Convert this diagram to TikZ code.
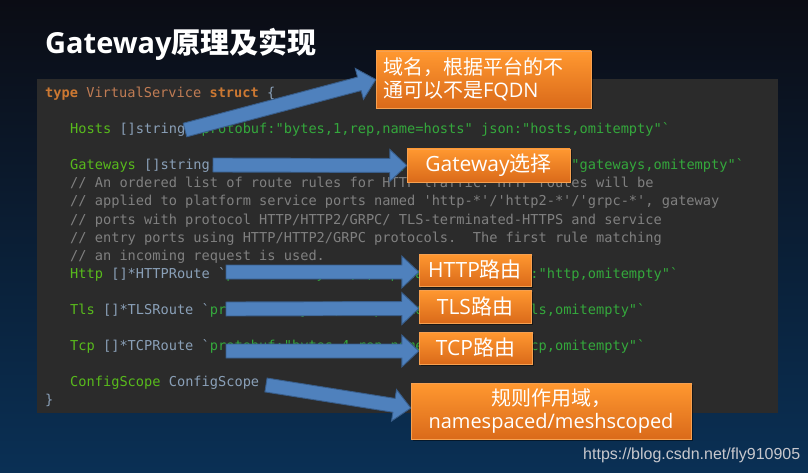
\documentclass[tikz,border=0pt]{standalone}
\usepackage{fontspec}
\usetikzlibrary{calc,shadows}
\newfontfamily\codefont{DejaVu Sans Mono}
\newfontfamily\cjk{Noto Sans CJK SC}
\newfontfamily\lat{Open Sans}
\newfontfamily\urlfont{Liberation Sans}
\definecolor{kw}{RGB}{204,120,50}
\definecolor{tname}{RGB}{192,124,84}
\definecolor{fld}{RGB}{88,186,28}
\definecolor{typ}{RGB}{138,160,184}
\definecolor{tagc}{RGB}{52,168,60}
\definecolor{cmt}{RGB}{128,128,128}
\definecolor{codebg}{RGB}{43,43,43}
\definecolor{arrfill}{RGB}{79,129,189}
\definecolor{arrline}{RGB}{56,93,138}
\definecolor{otop}{RGB}{255,152,48}
\definecolor{obot}{RGB}{218,106,26}
\definecolor{oline}{RGB}{246,160,80}
\definecolor{bgtop}{RGB}{11,12,20}
\definecolor{bgmid}{RGB}{12,22,40}
\definecolor{bgbot}{RGB}{10,48,85}
\definecolor{urlc}{RGB}{200,200,205}
\newcommand\ckw[1]{\textcolor{kw}{\bfseries#1}}
\newcommand\cfld[1]{\textcolor{fld}{#1}}
\newcommand\ctyp[1]{\textcolor{typ}{#1}}
\newcommand\ctag[1]{\textcolor{tagc}{#1}}
\newcommand\ccmt[1]{\textcolor{cmt}{#1}}
\newcommand\bq{\symbol{96}}
\tikzset{
  codeline/.style={anchor=base west, inner sep=0pt, font=\fontsize{13.65}{16}\selectfont\codefont\frenchspacing},
  blockarrow/.style={fill=arrfill, draw=arrline, line width=0.9pt, line join=miter},
  obox/.style={draw=oline, line width=0.8pt, top color=otop, bottom color=obot, text=white, inner sep=0pt,
    drop shadow={shadow xshift=1.5pt, shadow yshift=-1.5pt, opacity=0.45, fill=black}},
}
\newcommand\blkarrow[2]{%
  \path ($(#2)!17pt!(#1)$) coordinate (hh);
  \draw[blockarrow] ($(#1)!7pt!90:(#2)$) -- ($(hh)!7pt!90:(#2)$) -- ($(hh)!16pt!90:(#2)$) -- (#2)
    -- ($(hh)!16pt!-90:(#2)$) -- ($(hh)!7pt!-90:(#2)$) -- ($(#1)!7pt!-90:(#2)$) -- cycle;}
\begin{document}
\begin{tikzpicture}[x=1pt,y=-1pt]
\useasboundingbox (0,0) rectangle (808,473);
% background
\shade[top color=bgtop, middle color=bgmid, bottom color=bgbot] (0,0) rectangle (808,473);
% code box
\fill[codebg] (37,79) rectangle (778,413);
% code lines
\node[codeline] (l0) at (45,98) {\ckw{type} \textcolor{tname}{VirtualService} \ckw{struct} \ctyp{\{}};
\node[codeline] (l2) at (70,134) {\cfld{Hosts} \ctyp{[]string} \ctyp{\bq}\ctag{protobuf:"bytes,1,rep,name=hosts" json:"hosts,omitempty"\bq}};
\node[codeline] (l4) at (70,170) {\cfld{Gateways} \ctyp{[]string} \ctyp{\bq}\ctag{protobuf:"bytes,2,rep,name=gateways" json:"gateways,omitempty"\bq}};
\node[codeline] (l5) at (70,188) {\ccmt{// An ordered list of route rules for HTTP traffic. HTTP routes will be}};
\node[codeline] (l6) at (70,206) {\ccmt{// applied to platform service ports named 'http-*'/'http2-*'/'grpc-*', gateway}};
\node[codeline] (l7) at (70,224) {\ccmt{// ports with protocol HTTP/HTTP2/GRPC/ TLS-terminated-HTTPS and service}};
\node[codeline] (l8) at (70,242) {\ccmt{// entry ports using HTTP/HTTP2/GRPC protocols.\ \ The first rule matching}};
\node[codeline] (l9) at (70,260) {\ccmt{// an incoming request is used.}};
\node[codeline] (l10) at (70,278) {\cfld{Http} \ctyp{[]*HTTPRoute} \ctyp{\bq}\ctag{protobuf:"bytes,3,rep,name=http" json:"http,omitempty"\bq}};
\node[codeline] (l12) at (70,314) {\cfld{Tls} \ctyp{[]*TLSRoute} \ctyp{\bq}\ctag{protobuf:"bytes,5,rep,name=tls" json:"tls,omitempty"\bq}};
\node[codeline] (l14) at (70,350) {\cfld{Tcp} \ctyp{[]*TCPRoute} \ctyp{\bq}\ctag{protobuf:"bytes,4,rep,name=tcp" json:"tcp,omitempty"\bq}};
\node[codeline] (l16) at (70,386) {\cfld{ConfigScope} \ctyp{ConfigScope}};
\node[codeline] (l17) at (45,404) {\ctyp{\}}};
% callout boxes (positions)
\path node[minimum width=215pt, minimum height=57pt] (b1) at (483.5,79.5) {}
      node[minimum width=163pt, minimum height=33pt] (b2) at (488.5,165.5) {}
      node[minimum width=112pt, minimum height=32pt] (b3) at (475,270) {}
      node[minimum width=112pt, minimum height=33pt] (b4) at (475,306.5) {}
      node[minimum width=113pt, minimum height=32pt] (b5) at (475.5,348) {}
      node[minimum width=280pt, minimum height=56pt] (b6) at (551,411) {};
% arrow tails
\coordinate (t1) at (185,130);
\coordinate (t2) at (213,165);
\coordinate (t3) at (226,272);
\coordinate (t4) at (226,309);
\coordinate (t5) at (226,351);
\coordinate (t6) at (266,385);
\coordinate (h3) at ([yshift=-2pt]b3.west);
\coordinate (h4) at ([yshift=-2pt]b4.west);
\coordinate (h5) at ([yshift=-3pt]b5.west);
\coordinate (h6) at ([yshift=3pt]b6.west);
\blkarrow{t1}{b1.west}
\blkarrow{t2}{b2.west}
\blkarrow{t3}{h3}
\blkarrow{t4}{h4}
\blkarrow{t5}{h5}
\blkarrow{t6}{h6}
% boxes
\node[obox, minimum width=215pt, minimum height=57pt, text width=201pt, align=left,
      font=\fontsize{20}{23}\selectfont\cjk] (c1) at (b1) {域名，根据平台的不\\通可以不是{\lat FQDN}};
\node[obox, minimum width=163pt, minimum height=33pt, font=\fontsize{21}{24}\selectfont] (c2) at (b2) {\lat Gateway\cjk 选择};
\node[obox, minimum width=112pt, minimum height=32pt, font=\fontsize{21}{24}\selectfont] (c3) at (b3) {\lat HTTP\cjk 路由};
\node[obox, minimum width=112pt, minimum height=33pt, font=\fontsize{21}{24}\selectfont] (c4) at (b4) {\lat TLS\cjk 路由};
\node[obox, minimum width=113pt, minimum height=32pt, font=\fontsize{21}{24}\selectfont] (c5) at (b5) {\lat TCP\cjk 路由};
\node[obox, minimum width=280pt, minimum height=56pt, align=center,
      font=\fontsize{20}{23}\selectfont] (c6) at (b6) {\cjk 规则作用域，\\\lat namespaced/meshscoped};
% title
\node[anchor=base west, inner sep=0pt, text=white, font=\fontsize{29}{34}\selectfont\bfseries] (title) at (45,54) {\lat Gateway\cjk 原理及实现};
% watermark
\node[anchor=base west, inner sep=0pt, text=urlc, font=\fontsize{16}{18}\selectfont\urlfont] (url) at (583,459) {https://blog.csdn.net/fly910905};
\end{tikzpicture}
\end{document}
